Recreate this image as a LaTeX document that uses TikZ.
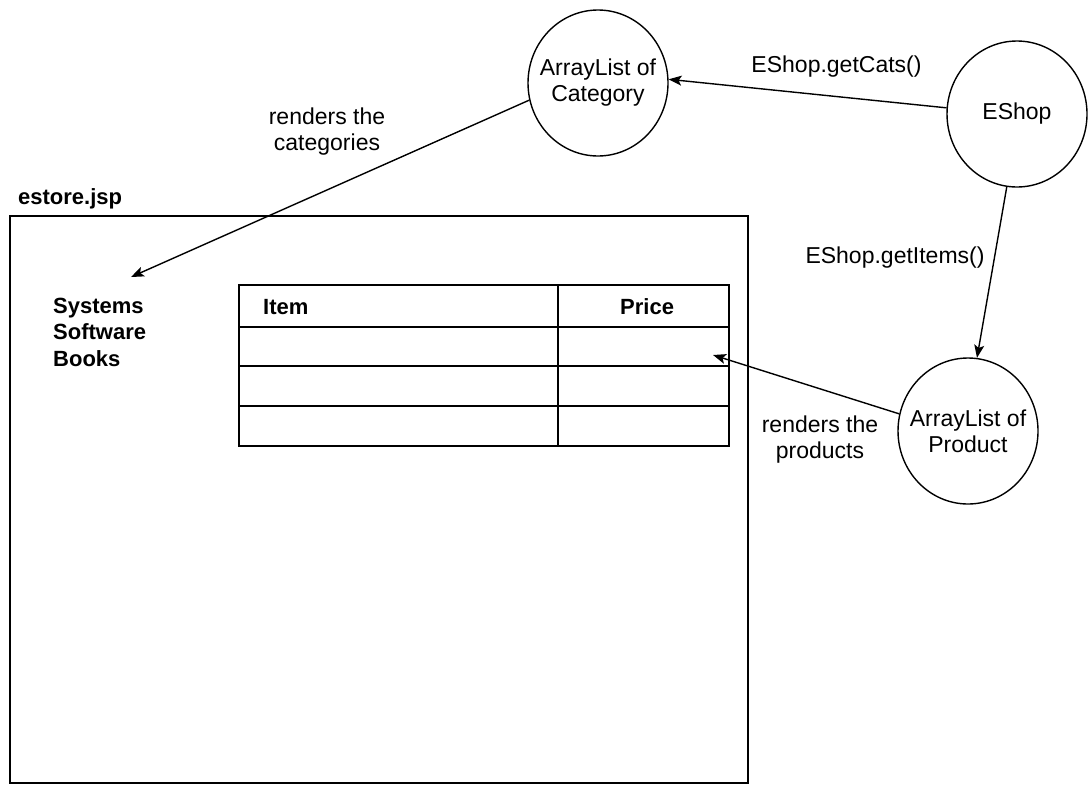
\documentclass[tikz,border=0pt]{standalone}
\usepackage{fontspec}
\setmainfont{Liberation Sans}
\usetikzlibrary{arrows.meta,shapes.geometric}
\begin{document}
\begin{tikzpicture}[x=1pt,y=-1pt,
  obj/.style={ellipse,draw,line width=1.4pt,minimum width=140pt,minimum height=146pt,inner sep=0pt},
  txt/.style={font=\fontsize{23}{26}\selectfont,align=center,inner sep=0pt},
  bld/.style={font=\fontsize{22}{26.5}\selectfont\bfseries,inner sep=0pt},
  frame/.style={line width=2.6pt},
  conn/.style={line width=1.4pt,-{Stealth[length=13pt,width=10pt,inset=3pt]}}]
\useasboundingbox (0,0) rectangle (1091,785);

% page frame
\draw[frame] (10,216) rectangle (748,783);
\node[bld,anchor=base west] (estore) at (18,204) {estore.jsp};

% category list
\node[bld,anchor=base west] (sys) at (53,313) {Systems};
\node[bld,anchor=base west] (soft) at (53,339.5) {Software};
\node[bld,anchor=base west] (books) at (53,366) {Books};
\coordinate (catend) at (131,277);

% table
\draw[frame] (239,285) rectangle (729,446);
\draw[frame] (558,285) -- (558,446);
\draw[frame] (239,327) -- (729,327);
\draw[frame] (239,366) -- (729,366);
\draw[frame] (239,406) -- (729,406);
\node[bld,anchor=base west] (item) at (263,314) {Item};
\node[bld,anchor=base west] (price) at (620,314) {Price};
\coordinate (prodend) at (713,355);

% objects
\node[obj,label={[txt]center:ArrayList of\\Category}] (cat) at (598,83) {};
\node[obj,label={[txt]center:EShop}] (eshop) at (1017,114) {};
\node[obj,label={[txt]center:ArrayList of\\Product}] (prod) at (968,431) {};

% connectors
\draw[conn] (eshop.175) -- (cat.3);
\node[txt,anchor=base] (getcats) at (836.5,72) {EShop.getCats()};
\draw[conn] (eshop.262) -- (prod.83);
\node[txt,anchor=base] (getitems) at (895,263) {EShop.getItems()};
\draw[conn] (cat.194) -- (catend);
\node[txt] (rcat) at (327,132) {renders the\\categories};
\draw[conn] (prod.166) -- (prodend);
\node[txt] (rprod) at (820,440) {renders the\\products};
\end{tikzpicture}
\end{document}
